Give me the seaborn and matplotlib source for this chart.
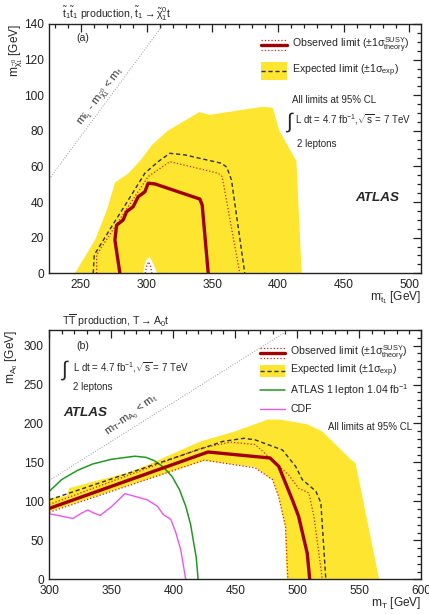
import numpy as np
import matplotlib
matplotlib.use("Agg")
import matplotlib.pyplot as plt
import seaborn as sns
from matplotlib.ticker import MultipleLocator
from matplotlib.lines import Line2D
from matplotlib.patches import Rectangle

sns.set_theme(style="white")
plt.rcParams["font.family"] = ["Liberation Sans", "DejaVu Sans"]
plt.rcParams["mathtext.fontset"] = "custom"
plt.rcParams["mathtext.rm"] = "Liberation Sans"
plt.rcParams["mathtext.it"] = "Liberation Sans"
plt.rcParams["mathtext.bf"] = "Liberation Sans:bold"

M_TOP = 173

# (a) stop pair production, contours in (m_stop, m_neutralino)
a_band_x = [245.5, 261, 270, 276, 286, 296, 304, 316, 340, 348, 388, 396, 401, 414, 418]
a_band_y = [0, 19, 36, 51, 56, 64, 72, 80, 90.5, 89, 93.5, 93, 80, 63, 0]
a_hole_x = [297.5, 298.5, 300.5, 302.5, 305, 308]
a_hole_y = [0, 5, 8.5, 9, 5.5, 0]
a_exp_x = [259.4, 260.2, 273.4, 286, 298.7, 308.8, 317.7, 329, 357, 361, 364.6, 374.7]
a_exp_y = [0, 10.3, 26.2, 41, 56.2, 62.7, 67.4, 66.5, 61.8, 59.6, 52.4, 0]
a_obs_x = [279.7, 275.9, 277.2, 282.2, 284.8, 289.8, 293.6, 298.7, 301.2, 306.3, 340.5, 342.3, 346.9]
a_obs_y = [0, 18.7, 27, 30, 34.6, 37.4, 43, 45.8, 50.6, 50.2, 41.7, 38.4, 0]
a_up_x = [262, 262, 275.9, 288.5, 301.2, 317.7, 354.4, 357.5, 370.9]
a_up_y = [0, 10.3, 26.2, 40.2, 54.3, 62.7, 56.2, 54.3, 0]
a_dn_x = [299, 300, 301.5, 303, 304]
a_dn_y = [0, 4, 6.5, 4, 0]

# (b) T pair production, contours in (m_T, m_A0)
b_band_up_x = [300, 314, 316, 337, 364, 378, 422, 450, 476, 486, 508, 520, 543, 547, 566]
b_band_up_y = [104, 107, 117, 126, 137, 146, 177, 190, 205, 205, 199, 190, 154, 149, 0]
b_band_lo_x = [300, 425, 466, 480, 485, 490, 491.5]
b_band_lo_y = [87, 152, 144, 127, 105, 68, 0]
b_obs_x = [300, 428, 478, 485, 496, 501, 508, 510]
b_obs_y = [91, 163.4, 155.7, 145, 102, 81, 33.5, 0]
b_exp_x = [300, 440, 457, 466, 488, 498.6, 504, 515, 519, 523]
b_exp_y = [102, 177, 181, 179, 166, 145, 128, 113, 98, 0]
b_up_x = [300, 422, 446, 466, 493, 501, 509.4, 513.4, 520.2]
b_up_y = [96, 168, 176, 173, 134, 117, 110.7, 80.6, 0]
b_dn_x = [300, 425, 466, 480, 485, 490.5, 492.4]
b_dn_y = [86, 153, 143, 128, 106, 68, 0]
b_lep_x = [300, 310, 323, 335, 350, 369, 378, 385, 392, 399, 405, 410, 414, 416, 418.5, 420]
b_lep_y = [113, 128, 140, 148, 154, 158, 156.5, 152, 144, 132, 115, 94, 70, 51, 28, 0]
b_cdf_x = [300, 310, 319, 325, 331, 336, 341, 350, 361, 370, 379, 387, 392, 398, 402, 406, 410]
b_cdf_y = [84, 81, 78, 84, 89, 85, 82, 93, 110, 106, 102, 94, 83, 77, 60, 38, 0]

YELLOW = "#fee630"
OBS = "#a00000"
SIG = "#d02020"
EXP = "#303030"
FS = 7.6


def curve(ax, x, y, **kw):
    sns.lineplot(x=x, y=y, sort=False, estimator=None, ax=ax, legend=False, **kw)


def style_axes(ax, xlim, ylim, xmaj, xmin, ymaj, ymin):
    ax.set_xlim(*xlim)
    ax.set_ylim(*ylim)
    ax.xaxis.set_major_locator(MultipleLocator(xmaj))
    ax.xaxis.set_minor_locator(MultipleLocator(xmin))
    ax.yaxis.set_major_locator(MultipleLocator(ymaj))
    ax.yaxis.set_minor_locator(MultipleLocator(ymin))
    ax.tick_params(which="both", direction="in", top=True, right=True,
                   labelsize=8.6, colors="#222222", width=0.9)
    ax.tick_params(which="major", length=5.8, pad=4)
    ax.tick_params(which="minor", length=2.9)
    for s in ax.spines.values():
        s.set_color("#222222")
        s.set_linewidth(1.0)
    ax.set_xlabel("")
    ax.set_ylabel("")
    ax.grid(False)


def legend_obs(ax, x0, x1, y, dy):
    ax.add_line(Line2D([x0, x1], [y, y], transform=ax.transAxes, color=OBS, lw=2.4))
    for d in (dy, -dy):
        ax.add_line(Line2D([x0, x1], [y + d, y + d], transform=ax.transAxes,
                           color=SIG, lw=0.9, ls=":"))


def legend_exp(ax, x0, x1, y, h):
    ax.add_patch(Rectangle((x0, y - h / 2), x1 - x0, h, transform=ax.transAxes,
                           color=YELLOW, lw=0))
    ax.add_line(Line2D([x0, x1], [y, y], transform=ax.transAxes, color=EXP,
                       lw=1.0, ls=(0, (3, 2))))


fig = plt.figure(figsize=(4.29, 6.14), dpi=100)
W, H = 429.0, 614.0
ax1 = fig.add_axes([49.3 / W, 1 - 273.3 / H, 372 / W, 249.3 / H])
ax2 = fig.add_axes([49.3 / W, 1 - 579.3 / H, 372 / W, 249.3 / H])

# ---- panel (a)
xa = (226, 509)
ax1.fill(a_band_x, a_band_y, color=YELLOW, lw=0, zorder=1)
ax1.fill(a_hole_x, a_hole_y, color="white", lw=0, zorder=1.5)
diag_x = np.array(xa, dtype=float)
curve(ax1, diag_x, diag_x - M_TOP, color="#9a9a9a", lw=0.7, linestyle=":")
curve(ax1, a_up_x, a_up_y, color=SIG, lw=0.9, linestyle=":")
curve(ax1, a_dn_x, a_dn_y, color=SIG, lw=0.9, linestyle=":")
curve(ax1, a_exp_x, a_exp_y, color=EXP, lw=1.0, linestyle=(0, (3, 2)))
curve(ax1, a_obs_x, a_obs_y, color=OBS, lw=2.4)
style_axes(ax1, xa, (0, 140), 50, 10, 20, 5)

ax1.text(0.091, 0.944, "(a)", transform=ax1.transAxes, ha="center", va="center", fontsize=FS)
legend_obs(ax1, 0.570, 0.638, 0.916, 0.02)
ax1.text(0.652, 0.916, r"Observed limit ($\pm$1$\sigma^{\rm SUSY}_{\rm theory}$)",
         transform=ax1.transAxes, va="center", fontsize=FS)
legend_exp(ax1, 0.570, 0.638, 0.811, 0.072)
ax1.text(0.652, 0.811, r"Expected limit ($\pm$1$\sigma_{\rm exp}$)",
         transform=ax1.transAxes, va="center", fontsize=FS)
ax1.text(0.653, 0.695, "All limits at 95% CL", transform=ax1.transAxes,
         va="center", fontsize=FS - 0.6)
ax1.text(0.634, 0.608, r"$\int$", transform=ax1.transAxes, va="center", fontsize=15)
ax1.text(0.661, 0.615, r"L dt = 4.7 fb$^{-1}$,$\sqrt{\rm s}$ = 7 TeV",
         transform=ax1.transAxes, va="center", fontsize=FS - 0.6)
ax1.text(0.665, 0.519, "2 leptons", transform=ax1.transAxes, va="center", fontsize=FS - 0.6)
ax1.text(0.822, 0.301, "ATLAS", transform=ax1.transAxes, va="center",
         fontsize=9.7, fontweight="bold", fontstyle="italic")
ax1.text(0.14, 0.71, r"m$_{\tilde{t}_1}$ - m$_{\tilde{\chi}^0_1}$ < m$_{\rm t}$",
         transform=ax1.transAxes, ha="center", va="center", rotation=53,
         fontsize=8.2, color="#333333")
ax1.text(1.0, -0.108, r"m$_{\tilde{t}_1}$ [GeV]", transform=ax1.transAxes,
         ha="right", va="baseline", fontsize=8.6)
ax1.text(-0.09, 1.0, r"m$_{\tilde{\chi}^0_1}$ [GeV]", transform=ax1.transAxes,
         ha="center", va="top", rotation=90, fontsize=8.6)
fig.text(62 / W, 1 - 18 / H,
         r"$\tilde{\rm t}_1\tilde{\rm t}_1$ production, $\tilde{\rm t}_1\rightarrow\tilde{\chi}^0_1$t",
         fontsize=FS, va="baseline")

# ---- panel (b)
xb = (300, 600)
ax2.fill(b_band_up_x + b_band_lo_x[::-1], b_band_up_y + b_band_lo_y[::-1],
         color=YELLOW, lw=0, zorder=1)
diag_x = np.array(xb, dtype=float)
curve(ax2, diag_x, diag_x - M_TOP, color="#9a9a9a", lw=0.7, linestyle=":")
curve(ax2, b_cdf_x, b_cdf_y, color="#ee55ee", lw=1.0)
curve(ax2, b_lep_x, b_lep_y, color="#1f9a1f", lw=1.1)
curve(ax2, b_up_x, b_up_y, color=SIG, lw=0.9, linestyle=":")
curve(ax2, b_dn_x, b_dn_y, color=SIG, lw=0.9, linestyle=":")
curve(ax2, b_exp_x, b_exp_y, color=EXP, lw=1.0, linestyle=(0, (3, 2)))
curve(ax2, b_obs_x, b_obs_y, color=OBS, lw=2.4)
style_axes(ax2, xb, (0, 320), 50, 10, 50, 10)

ax2.text(0.091, 0.937, "(b)", transform=ax2.transAxes, ha="center", va="center", fontsize=FS)
ax2.text(0.030, 0.838, r"$\int$", transform=ax2.transAxes, va="center", fontsize=15)
ax2.text(0.063, 0.848, r"L dt = 4.7 fb$^{-1}$,$\sqrt{\rm s}$ = 7 TeV",
         transform=ax2.transAxes, va="center", fontsize=FS - 0.6)
ax2.text(0.063, 0.773, "2 leptons", transform=ax2.transAxes, va="center", fontsize=FS - 0.6)
ax2.text(0.037, 0.666, "ATLAS", transform=ax2.transAxes, va="center",
         fontsize=9.7, fontweight="bold", fontstyle="italic")
ax2.text(0.222, 0.655, r"m$_{\rm T}$-m$_{A_0}$ < m$_{\rm t}$", transform=ax2.transAxes,
         ha="center", va="center", rotation=36, fontsize=8.0, color="#333333")
legend_obs(ax2, 0.566, 0.634, 0.906, 0.02)
ax2.text(0.648, 0.906, r"Observed limit ($\pm$1$\sigma^{\rm SUSY}_{\rm theory}$)",
         transform=ax2.transAxes, va="center", fontsize=FS)
legend_exp(ax2, 0.566, 0.634, 0.835, 0.05)
ax2.text(0.648, 0.835, r"Expected limit ($\pm$1$\sigma_{\rm exp}$)",
         transform=ax2.transAxes, va="center", fontsize=FS)
ax2.add_line(Line2D([0.566, 0.634], [0.76, 0.76], transform=ax2.transAxes,
                    color="#1f9a1f", lw=1.1))
ax2.text(0.648, 0.76, r"ATLAS 1 lepton 1.04 fb$^{-1}$", transform=ax2.transAxes,
         va="center", fontsize=FS)
ax2.add_line(Line2D([0.566, 0.634], [0.683, 0.683], transform=ax2.transAxes,
                    color="#ee55ee", lw=1.0))
ax2.text(0.648, 0.683, "CDF", transform=ax2.transAxes, va="center", fontsize=FS)
ax2.text(0.975, 0.61, "All limits at 95% CL", transform=ax2.transAxes,
         ha="right", va="center", fontsize=FS - 0.6)
ax2.text(1.0, -0.107, r"m$_{\rm T}$ [GeV]", transform=ax2.transAxes,
         ha="right", va="baseline", fontsize=8.6)
ax2.text(-0.1, 1.0, r"m$_{A_0}$ [GeV]", transform=ax2.transAxes,
         ha="center", va="top", rotation=90, fontsize=8.6)
fig.text(62 / W, 1 - 325 / H, r"T$\overline{\rm T}$ production, T$\rightarrow$A$_0$t",
         fontsize=FS, va="baseline")

fig.savefig("out.png", dpi=100)
